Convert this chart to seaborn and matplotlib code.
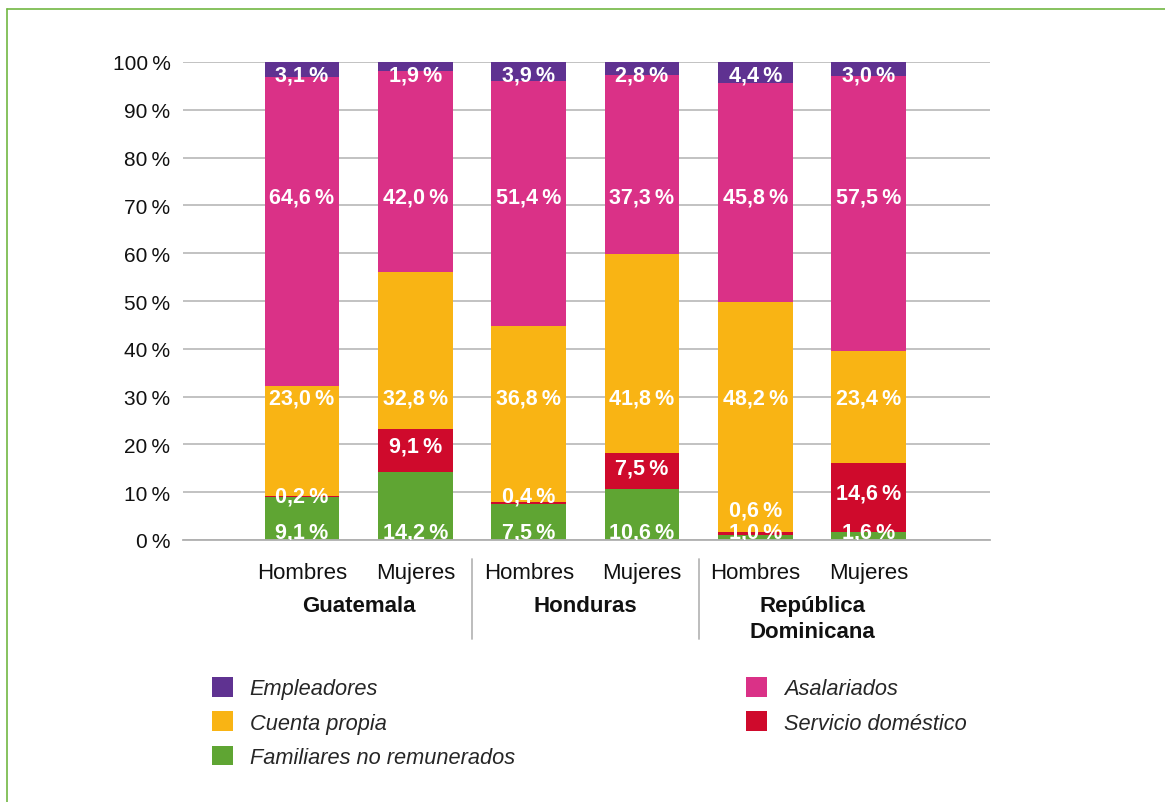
import numpy as np
import pandas as pd
import matplotlib
matplotlib.use("Agg")
import matplotlib.pyplot as plt
from matplotlib.patches import Patch
from matplotlib.lines import Line2D
import matplotlib.transforms as mtransforms
import seaborn as sns

# ---- data -------------------------------------------------------------
countries = ["Guatemala", "Honduras", "República\nDominicana"]
sexes = ["Hombres", "Mujeres"]
groups = ["Guatemala Hombres", "Guatemala Mujeres",
          "Honduras Hombres", "Honduras Mujeres",
          "RD Hombres", "RD Mujeres"]

# stacked from the bottom up
familiares = [9.1, 14.2, 7.5, 10.6, 1.0, 1.6]
servicio = [0.2, 9.1, 0.4, 7.5, 0.6, 14.6]
cuenta_propia = [23.0, 32.8, 36.8, 41.8, 48.2, 23.4]
asalariados = [64.6, 42.0, 51.4, 37.3, 45.8, 57.5]
empleadores = [3.1, 1.9, 3.9, 2.8, 4.4, 3.0]

categories = ["Familiares no remunerados", "Servicio doméstico",
              "Cuenta propia", "Asalariados", "Empleadores"]
series = [familiares, servicio, cuenta_propia, asalariados, empleadores]

yticks = [0, 10, 20, 30, 40, 50, 60, 70, 80, 90, 100]

# ---- styling ----------------------------------------------------------
colors = {
    "Empleadores": "#5F3291",
    "Asalariados": "#DA3187",
    "Cuenta propia": "#F9B414",
    "Servicio doméstico": "#CF0A2C",
    "Familiares no remunerados": "#5FA533",
}
# vertical placement of the value labels, per segment
label_y = {
    "Empleadores": [97.3] * 6,
    "Asalariados": [71.8] * 6,
    "Cuenta propia": [29.8] * 6,
    "Servicio doméstico": [9.2, 19.6, 9.2, 15.0, 6.2, 9.8],
    "Familiares no remunerados": [1.6] * 6,
}

sns.set_theme(style="white")
plt.rcParams["font.family"] = ["Liberation Sans", "DejaVu Sans"]

W, H = 1165, 803
fig = plt.figure(figsize=(W / 100, H / 100), dpi=100)
ax = fig.add_axes([183 / W, 1 - 541 / H, (990 - 183) / W, (541 - 63) / H])

# long-form table with cumulative tops
rows = []
for cat, vals in zip(categories, series):
    for g, v in zip(groups, vals):
        rows.append({"grupo": g, "categoria": cat, "valor": v})
df = pd.DataFrame(rows)
df["top"] = df.groupby("grupo")["valor"].cumsum()

# draw from the top layer down so lower layers cover the upper bars
for cat in reversed(categories):
    sub = df[df["categoria"] == cat]
    sns.barplot(data=sub, x="grupo", y="top", order=groups, color=colors[cat],
                saturation=1, width=0.66, errorbar=None, linewidth=0, ax=ax,
                zorder=2)

ax.set_xlim(-1.05, 6.07)
ax.set_ylim(0, 100)
ax.set_yticks(yticks)
ax.set_yticklabels([f"{t}\u2009%" for t in yticks], fontsize=15, color="#111111")
ax.tick_params(axis="y", length=0, pad=9)
ax.set_xticks([])
ax.set_xlabel("")
ax.set_ylabel("")
ax.yaxis.grid(True, color="#bdbdbd", linewidth=1.3, zorder=0)
ax.set_axisbelow(True)
for s in ["top", "right", "left"]:
    ax.spines[s].set_visible(False)
ax.spines["bottom"].set_color("#b0b0b0")
ax.spines["bottom"].set_linewidth(1.3)

# value labels
for cat in categories:
    sub = df[df["categoria"] == cat].set_index("grupo").loc[groups]
    for i, v in enumerate(sub["valor"]):
        txt = f"{v:.1f}".replace(".", ",") + "\u2009%"
        ax.text(i, label_y[cat][i], txt, ha="center", va="center",
                color="white", fontsize=15.5, fontweight="bold", zorder=5,
                clip_on=True)

# category labels under the axis
trans = mtransforms.blended_transform_factory(ax.transData, fig.transFigure)
for i in range(6):
    ax.text(i, 1 - 574 / H, sexes[i % 2], transform=trans, ha="center",
            va="center", fontsize=16, color="#111111")
for j, c in enumerate(countries):
    ax.text(2 * j + 0.5, 1 - 596 / H, c, transform=trans, ha="center",
            va="top", fontsize=16, fontweight="bold", color="#111111",
            linespacing=1.3)
for xsep in [1.5, 3.5]:
    ax.add_line(Line2D([xsep, xsep], [1 - 560 / H, 1 - 640 / H],
                       transform=trans, color="#b8b8b8", linewidth=1.3,
                       clip_on=False))

# legend, two columns
def make_handles(names):
    return [Patch(facecolor=colors[n], edgecolor="none", label=n) for n in names]

leg_kw = dict(frameon=False, handlelength=0.95, handleheight=1.0,
              handletextpad=0.78, labelspacing=0.56,
              borderpad=0, borderaxespad=0, loc="upper left",
              prop={"style": "italic", "size": 15.7})
fig.legend(handles=make_handles(["Empleadores", "Cuenta propia",
                                 "Familiares no remunerados"]),
           bbox_to_anchor=(212 / W, 1 - 678 / H), **leg_kw)
fig.legend(handles=make_handles(["Asalariados", "Servicio doméstico"]),
           bbox_to_anchor=(746 / W, 1 - 678 / H), **leg_kw)

# green frame
frame_c = "#72B843"
fig.add_artist(Line2D([7 / W, 1], [1 - 10 / H, 1 - 10 / H],
                      transform=fig.transFigure, color=frame_c, linewidth=1.2))
fig.add_artist(Line2D([7 / W, 7 / W], [1 - 10 / H, 0],
                      transform=fig.transFigure, color=frame_c, linewidth=1.2))

fig.savefig("out.png", dpi=100, facecolor="white")
